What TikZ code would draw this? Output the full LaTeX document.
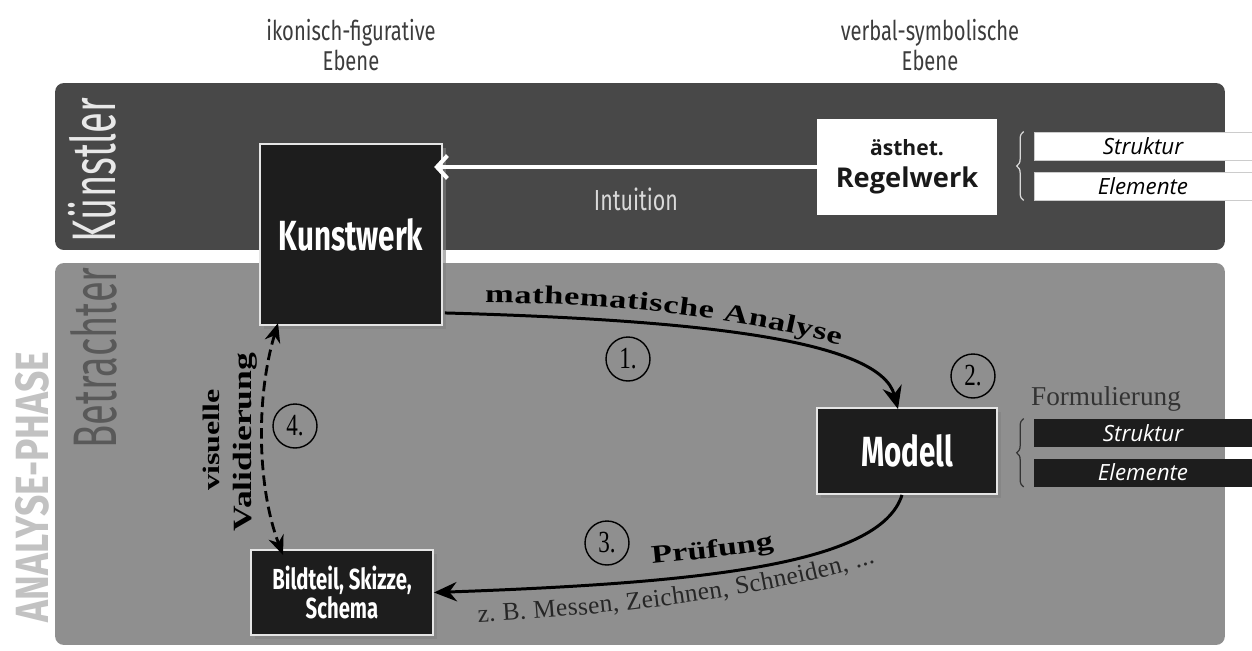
\documentclass[tikz,border=0pt]{standalone}
\usepackage{fontspec}
\setmainfont{Liberation Serif}
\newfontfamily\condL[FakeStretch=0.62]{Fira Sans}
\newfontfamily\condM[FakeStretch=0.74]{Fira Sans}
\newfontfamily\condH[FakeStretch=0.7]{Fira Sans}
\newfontfamily\condP[FakeStretch=0.8]{Fira Sans}
\newfontfamily\uif{Open Sans}
\newfontfamily\serifW[FakeStretch=1.35]{Liberation Serif}
\newfontfamily\serifN[FakeStretch=0.75]{Liberation Serif}
\usetikzlibrary{arrows.meta,shadows,decorations.pathreplacing,decorations.text,calc}
\definecolor{bandT}{HTML}{484848}
\definecolor{bandB}{HTML}{8F8F8F}
\definecolor{ink}{HTML}{1D1D1D}
\definecolor{titlec}{HTML}{3C3C3C}
\begin{document}
\begin{tikzpicture}[x=0.02cm,y=-0.02cm,
  band/.style={rounded corners=5pt, inner sep=0, draw=none},
  blk/.style={fill=ink, draw=white!90!black, line width=1.1pt, text=white, inner sep=0,
    drop shadow={opacity=0.6, shadow xshift=2.5pt, shadow yshift=-2.5pt}},
  strip/.style={minimum width=4.36cm, minimum height=0.56cm, inner sep=0, font=\uif\itshape\fontsize{12.7}{14}\selectfont},
  wstrip/.style={strip, fill=white, draw=black!20, line width=0.4pt, text=black},
  bstrip/.style={strip, fill=ink, text=white},
  circ/.style={circle, draw=black, line width=0.8pt, minimum size=0.88cm, inner sep=0, font=\serifN\fontsize{17.5}{17.5}\selectfont},
  flow/.style={line width=1.7pt, -{Stealth[length=13pt,width=11pt]}},
  title/.style={align=center, text=titlec, font=\condM\fontsize{15.5}{17.6}\selectfont},
  sidelbl/.style={rotate=90, inner sep=0},
]
\useasboundingbox (0,0) rectangle (1252,650);
\fill[white] (0,0) rectangle (1252,650);

% bands
\node[band, fill=bandT, minimum width=23.4cm, minimum height=3.34cm] (kband) at (640,166.5) {};
\node[band, fill=bandB, minimum width=23.4cm, minimum height=7.64cm] (bband) at (640,454) {};

% titles
\node[title] (t1) at (351,45) {ikonisch-figurative\\Ebene};
\node[title] (t2) at (930,45) {verbal-symbolische\\Ebene};

% side labels
\node[sidelbl, text=white!91!black, font=\condL\fontsize{35}{35}\selectfont] (kue) at (92,170) {Künstler};
\node[sidelbl, text=black!65, font=\condL\fontsize{35}{35}\selectfont] (betr) at (94,358) {Betrachter};
\node[sidelbl, text=black!24, font=\condP\bfseries\fontsize{26.5}{26.5}\selectfont] (phase) at (32,487) {ANALYSE-PHASE};

% main boxes
\node[blk, minimum width=3.64cm, minimum height=3.62cm, font=\condH\bfseries\fontsize{24}{28}\selectfont] (kw) at (351,234.5) {Kunstwerk};
\node[fill=white, minimum width=3.6cm, minimum height=1.92cm, inner sep=0, align=center, text=black!90, font=\uif\bfseries\fontsize{15.5}{18.5}\selectfont] (rw) at (907,167)
  {{\fontsize{12}{18.5}\selectfont ästhet.}\\Regelwerk};
\node[blk, minimum width=3.6cm, minimum height=1.72cm, font=\condH\bfseries\fontsize{24}{28}\selectfont] (md) at (907,451) {Modell};
\node[blk, minimum width=3.64cm, minimum height=1.7cm, align=center, font=\condH\bfseries\fontsize{16.5}{17}\selectfont] (bt) at (342,592.5) {Bildteil, Skizze,\\Schema};

% strips
\node[wstrip] (s1) at (1143,146) {Struktur};
\node[wstrip] (e1) at (1143,186) {Elemente};
\node[bstrip] (s2) at (1143,433) {Struktur};
\node[bstrip] (e2) at (1143,472.5) {Elemente};
\draw[white!85!black, line width=0.7pt, decorate, decoration={brace, amplitude=4pt}]
  ($(e1.south west)+(-10,0)$) -- ($(s1.north west)+(-10,0)$);
\draw[black!80, line width=0.7pt, decorate, decoration={brace, amplitude=4pt}]
  ($(e2.south west)+(-10,0)$) -- ($(s2.north west)+(-10,0)$);
\node[text=black!80, font=\fontsize{15.5}{17}\selectfont] (form) at (1106,399) {Formulierung};

% Intuition
\draw[white, line width=2.3pt, -{Straight Barb[length=6pt,width=13pt,line width=2.3pt]}, shorten >=-5pt]
  (rw.west) -- (kw.east |- rw.west);
\node[text=white!85!black, font=\condM\fontsize{16.5}{18}\selectfont] (intu) at (636,199) {Intuition};

% arrows
\draw[flow] ($(kw.south east)+(2,-13)$) .. controls (700,320) and (880,340) .. ($(md.north)+(-9,2)$);
\draw[flow] ($(md.south)+(-5,0)$) .. controls (880,565) and (700,583) .. (bt.east);
\draw[line width=1.6pt, dash pattern=on 6pt off 3pt,
  {Stealth[length=11pt,width=9pt]}-{Stealth[length=11pt,width=9pt]}]
  ($(kw.south west)+(19,-3)$) .. controls (255,400) and (258,490) .. ($(bt.north west)+(33,6)$);

% labels along arrows
\path[decorate, decoration={text along path, text align={fit to path},
  text={|\serifW\bfseries\fontsize{14.5}{16}\selectfont|mathematische Analyse}}]
  (485,303) .. controls (600,303) and (720,313) .. (840,345);
\path[decorate, decoration={text along path, text align={fit to path},
  text={|\serifW\bfseries\fontsize{14.5}{16}\selectfont|Prüfung}}]
  (652,564) .. controls (690,560) and (735,556) .. (774,549);
\path[decorate, decoration={text along path, text align={fit to path},
  text={|\color{black!85}\fontsize{14.5}{16}\selectfont|z. B. Messen, Zeichnen, Schneiden, ...}}]
  (478,622) .. controls (600,616) and (760,599) .. (875,563);
\node[sidelbl, anchor=base, font=\serifW\bfseries\fontsize{13.5}{15}\selectfont] (vis) at (219,440) {visuelle};
\node[sidelbl, anchor=base, font=\serifW\bfseries\fontsize{15}{16}\selectfont] (val) at (251,442) {Validierung};

% numbers
\node[circ] (n1) at (628,359) {1.};
\node[circ] (n2) at (973,376) {2.};
\node[circ] (n3) at (607,543) {3.};
\node[circ] (n4) at (295,426) {4.};
\end{tikzpicture}
\end{document}
